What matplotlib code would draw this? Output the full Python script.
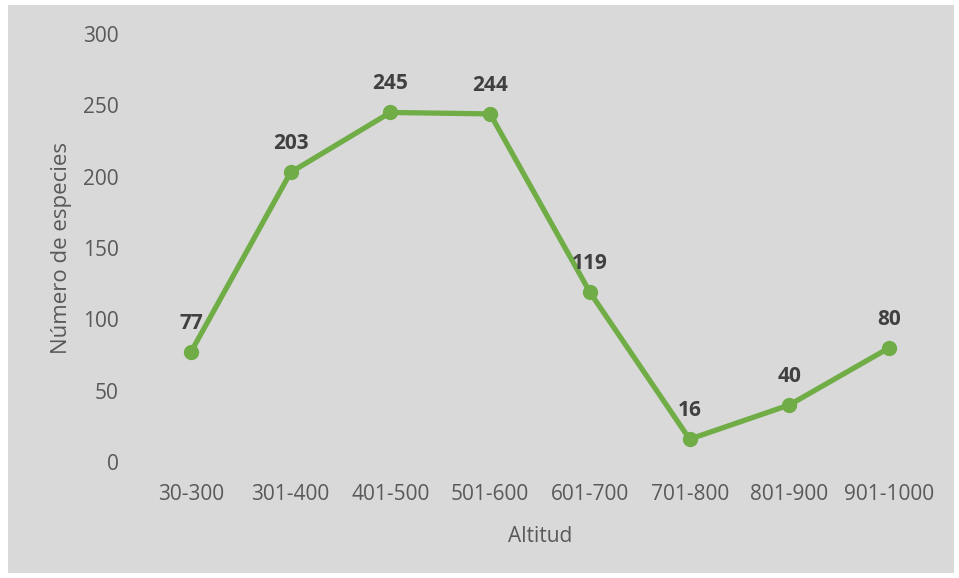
import matplotlib.pyplot as plt
from matplotlib.patches import Rectangle

altitud = ["30-300", "301-400", "401-500", "501-600", "601-700", "701-800", "801-900", "901-1000"]
especies = [77, 203, 245, 244, 119, 16, 40, 80]

W, H = 959, 578
plt.rcParams['font.family'] = ['Open Sans', 'DejaVu Sans']

fig = plt.figure(figsize=(W / 100, H / 100), dpi=100)
fig.patch.set_facecolor('white')
# grey chart area with a thin white margin
fig.add_artist(Rectangle((8 / W, 5 / H), (954 - 8) / W, (573 - 5) / H,
                         transform=fig.transFigure, facecolor='#d9d9d9',
                         edgecolor='none', zorder=-10))

ax = fig.add_axes([141 / W, (H - 462) / H, (939 - 141) / W, (462 - 34) / H])
ax.set_facecolor('none')
ax.set_zorder(5)

x = list(range(len(altitud)))
ax.plot(x, especies, color='#70ad47', linewidth=3.8, marker='o', markersize=10,
        solid_capstyle='round', zorder=3, clip_on=False)

for xi, v in zip(x, especies):
    ax.annotate(str(v), (xi, v), xytext=(0, 13), textcoords='offset points',
                ha='center', va='bottom', fontsize=15, fontweight='bold', color='#404040')

ax.set_xlim(-0.5, len(altitud) - 0.5)
ax.set_ylim(0, 300)
ax.set_yticks(range(0, 301, 50))
ax.set_xticks(x)
ax.set_xticklabels(altitud)
ax.tick_params(axis='both', length=0, labelsize=15, labelcolor='#595959')
ax.tick_params(axis='y', pad=16)
ax.tick_params(axis='x', pad=16)
for s in ax.spines.values():
    s.set_visible(False)

ax.set_xlabel('Altitud', fontsize=15, color='#595959', labelpad=15)
ax.set_ylabel('Número de especies', fontsize=16, color='#595959', labelpad=8)

fig.savefig('out.png', dpi=100)
